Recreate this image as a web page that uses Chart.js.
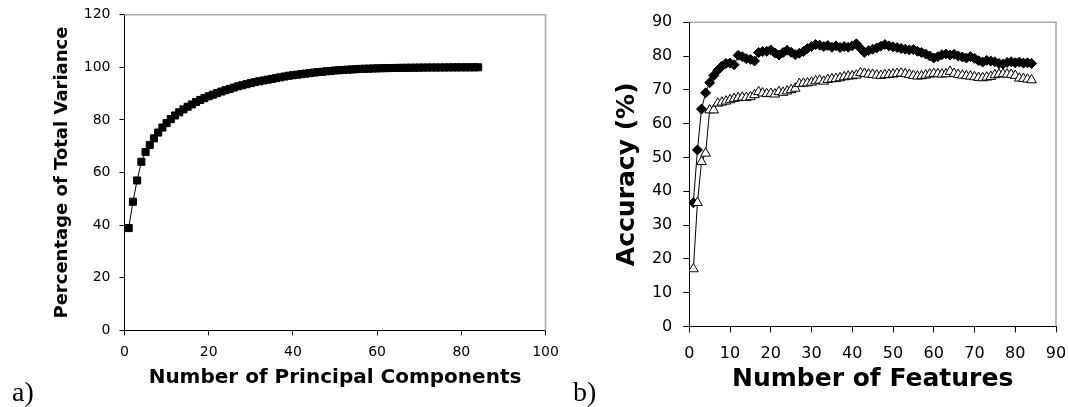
<!DOCTYPE html>
<html>
<head>
<meta charset="utf-8">
<script src="https://cdn.jsdelivr.net/npm/chart.js@4.4.1/dist/chart.umd.min.js"></script>
<style>
  html, body { margin: 0; padding: 0; background: #fff; }
  body { width: 1069px; height: 407px; position: relative; overflow: hidden; }
  .panel { position: absolute; top: 0; height: 407px; }
  #boxA { left: 0; width: 562px; }
  #boxB { left: 562px; width: 507px; }
  .tag { position: absolute; font-family: "Liberation Serif", "Times New Roman", serif; font-size: 28px; line-height: 1; color: #000; }
</style>
</head>
<body>
<div class="panel" id="boxA"><canvas id="chartA" width="562" height="407"></canvas></div>
<div class="panel" id="boxB"><canvas id="chartB" width="507" height="407"></canvas></div>
<div class="tag" style="left:12px; top:378px;">a)</div>
<div class="tag" style="left:573px; top:378px;">b)</div>
<script>
// a) cumulative variance, one value per principal component (1..84)
const variance = [
  38.9, 48.9, 57.0, 64.1, 67.8, 70.5, 73.0, 75.2, 77.1, 78.8,
  80.3, 81.7, 82.9, 84.0, 85.0, 85.9, 86.8, 87.6, 88.3, 89.0,
  89.6, 90.2, 90.8, 91.3, 91.8, 92.3, 92.8, 93.2, 93.6, 94.0,
  94.4, 94.7, 95.0, 95.3, 95.6, 95.9, 96.2, 96.5, 96.8, 97.0,
  97.2, 97.4, 97.6, 97.8, 98.0, 98.2, 98.3, 98.5, 98.6, 98.8,
  98.9, 99.0, 99.1, 99.2, 99.3, 99.4, 99.45, 99.5, 99.55, 99.6,
  99.65, 99.7, 99.72, 99.75, 99.78, 99.8, 99.82, 99.84, 99.86, 99.88,
  99.9, 99.91, 99.92, 99.93, 99.94, 99.95, 99.96, 99.97, 99.97, 99.98,
  99.98, 99.99, 99.99, 100
];
const components = variance.map((_, i) => i + 1);

// b) accuracy per number of features (1..84)
const accDiamond = [
  36.6, 52.2, 64.3, 69.1, 72.1, 74.2, 75.8, 77.0, 77.8, 77.9,
  77.4, 80.2, 79.8, 79.2, 79.0, 78.5, 81.0, 81.3, 81.4, 81.8,
  80.9, 80.3, 81.0, 81.7, 81.1, 80.4, 80.8, 81.3, 82.2, 82.8,
  83.4, 83.2, 82.8, 83.1, 82.6, 83.0, 82.5, 82.8, 82.6, 83.0,
  83.6, 82.3, 81.0, 81.6, 82.0, 82.4, 82.9, 83.4, 83.0, 82.7,
  82.5, 82.2, 82.0, 81.8, 81.9, 81.4, 81.0, 80.6, 80.0, 79.4,
  79.8, 80.4, 80.6, 80.3, 80.5, 80.0, 79.7, 79.4, 79.8, 79.3,
  78.6, 78.2, 78.7, 78.5, 78.3, 77.8, 77.6, 78.1, 78.3, 78.0,
  78.2, 77.9, 78.0, 77.8
];
const accTriangle = [
  17.0, 36.6, 48.7, 51.2, 64.0, 64.0, 66.0, 66.3, 66.6, 67.0,
  67.4, 67.6, 67.8, 67.7, 67.9, 68.5, 69.4, 69.0, 68.8, 68.9,
  68.7, 69.4, 69.2, 69.6, 70.0, 70.4, 71.8, 71.9, 72.0, 72.2,
  72.6, 72.8, 72.5, 73.0, 73.2, 73.3, 73.5, 73.8, 74.0, 74.1,
  74.3, 75.0, 74.8, 74.6, 74.5, 74.3, 74.2, 74.4, 74.5, 74.6,
  74.8, 74.9, 74.7, 74.5, 74.2, 74.0, 74.1, 74.3, 74.6, 74.8,
  74.7, 74.6, 74.7, 75.4, 74.8, 74.5, 74.3, 74.1, 74.0, 73.8,
  73.6, 73.5, 73.7, 73.9, 74.4, 74.6, 74.7, 74.6, 74.5, 74.2,
  73.4, 73.3, 73.1, 72.9
];
const features = accDiamond.map((_, i) => i + 1);

const xTicksA = [0, 20, 40, 60, 80, 100];
const yTicksA = [0, 20, 40, 60, 80, 100, 120];
const xTicksB = [0, 10, 20, 30, 40, 50, 60, 70, 80, 90];
const yTicksB = [0, 10, 20, 30, 40, 50, 60, 70, 80, 90];

// gray frame on top and right of the plot area, like the spreadsheet chart
const frame = {
  id: 'frame',
  beforeDatasetsDraw(chart) {
    const { ctx, chartArea: a } = chart;
    ctx.save();
    ctx.strokeStyle = '#a8a8a8';
    ctx.lineWidth = 1.5;
    ctx.beginPath();
    ctx.moveTo(a.left, a.top);
    ctx.lineTo(a.right, a.top);
    ctx.lineTo(a.right, a.bottom);
    ctx.stroke();
    ctx.restore();
  }
};

function pts(xs, ys) { return xs.map((x, i) => ({ x, y: ys[i] })); }

function axis(ticksArr, o) {
  return {
    type: 'linear',
    min: ticksArr[0],
    max: ticksArr[ticksArr.length - 1],
    afterBuildTicks: s => { s.ticks = ticksArr.map(v => ({ value: v })); },
    afterFit: s => {
      if (o.w) s.width = o.w;
      if (o.h) s.height = o.h;
      // plot area is set by layout padding, not by label overhang
      s.paddingLeft = s.paddingRight = s.paddingTop = s.paddingBottom = 0;
    },
    border: { display: true, color: '#000', width: 1 },
    grid: { drawOnChartArea: false, drawTicks: true, tickLength: o.tick, color: '#000', tickColor: '#000' },
    ticks: { color: '#000', padding: o.pad, font: { family: 'DejaVu Sans', size: o.tickSize } },
    title: {
      display: true, text: o.title, color: '#000',
      font: { family: 'DejaVu Sans', size: o.titleSize, weight: 'bold' },
      padding: o.titlePad
    }
  };
}

new Chart(document.getElementById('chartA'), {
  type: 'line',
  data: {
    datasets: [{
      data: pts(components, variance),
      borderColor: '#000', borderWidth: 1, tension: 0,
      pointStyle: 'rect', pointRadius: 5, pointBorderWidth: 1,
      pointBackgroundColor: '#000', pointBorderColor: '#000'
    }]
  },
  options: {
    responsive: false, animation: false,
    layout: { padding: { top: 14.7, right: 16.5, bottom: 14.6, left: 0 } },
    plugins: { legend: { display: false }, tooltip: { enabled: false } },
    scales: {
      x: axis(xTicksA, { h: 62, tick: 5, pad: 9, tickSize: 14, title: 'Number of Principal Components', titleSize: 20, titlePad: { top: 0, bottom: 2.4 } }),
      y: axis(yTicksA, { w: 124.5, tick: 5, pad: 9, tickSize: 14, title: 'Percentage of Total Variance', titleSize: 18, titlePad: { top: 51.2, bottom: 0 } })
    }
  },
  plugins: [frame]
});

new Chart(document.getElementById('chartB'), {
  type: 'line',
  data: {
    datasets: [{
      data: pts(features, accTriangle),
      borderColor: '#000', borderWidth: 1, tension: 0,
      pointStyle: 'triangle', pointRadius: 5.6, pointBorderWidth: 1,
      pointBackgroundColor: '#fff', pointBorderColor: '#000'
    }, {
      data: pts(features, accDiamond),
      borderColor: '#000', borderWidth: 1, tension: 0,
      pointStyle: 'rectRot', pointRadius: 5, pointBorderWidth: 1,
      pointBackgroundColor: '#000', pointBorderColor: '#000'
    }]
  },
  options: {
    responsive: false, animation: false,
    layout: { padding: { top: 22.2, right: 13, bottom: 10.6, left: 0 } },
    plugins: { legend: { display: false }, tooltip: { enabled: false } },
    scales: {
      x: axis(xTicksB, { h: 70, tick: 6, pad: 12, tickSize: 16, title: 'Number of Features', titleSize: 25, titlePad: { top: 0, bottom: 2 } }),
      y: axis(yTicksB, { w: 127.3, tick: 6, pad: 11, tickSize: 16, title: 'Accuracy (%)', titleSize: 25, titlePad: { top: 50.5, bottom: 0 } })
    }
  },
  plugins: [frame]
});
</script>
</body>
</html>
